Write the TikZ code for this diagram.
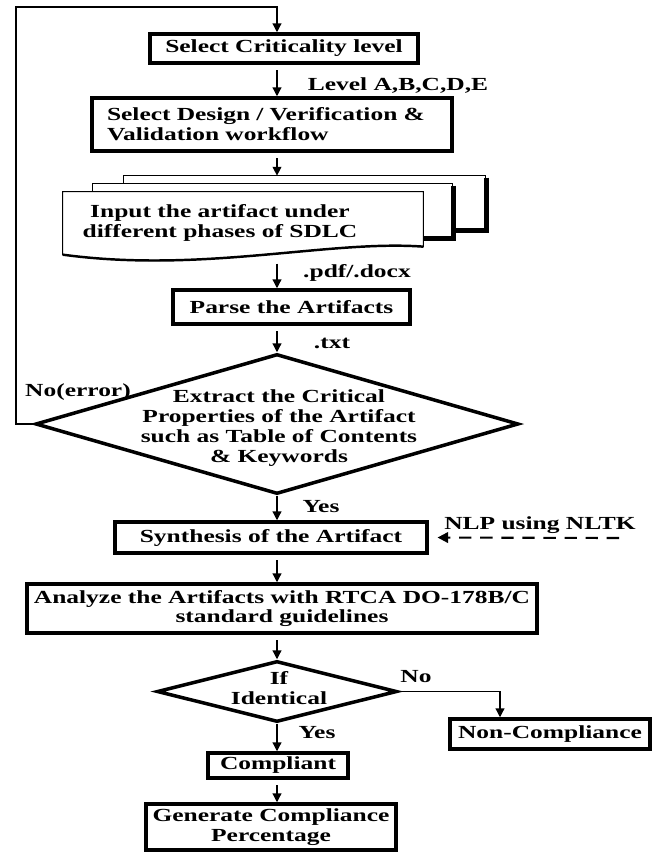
\documentclass[tikz,border=0pt]{standalone}
\usepackage{fontspec}
\setmainfont{Liberation Serif}[FakeStretch=1.38]
\usepackage{xcolor}
\usetikzlibrary{positioning, calc, shapes.geometric, arrows.meta}
\newdimen\px \px=0.02cm
\newcommand{\chartfont}{\fontsize{10.5}{11.3}\selectfont\bfseries}
\tikzset{
    stepbox/.style={
        draw, line width=2pt, fill=white, inner sep=0pt, align=center, font=\chartfont
    },
    decision/.style={
        diamond, draw, line width=2pt, fill=white, inner sep=0pt
    },
    arr/.style={
        -{Triangle[length=5pt,width=5pt]}, line width=0.7pt, shorten <=3pt
    },
    lbl/.style={
        font=\chartfont, align=center, inner sep=0pt
    },
    sheet/.style={
        draw, line width=0.6pt, fill=white
    },
    shade/.style={
        line width=2.5pt
    }
}

\begin{document}
\begin{tikzpicture}[x=0.02cm, y=-0.02cm]
    \useasboundingbox (0,0) rectangle (656,852);

    % spine of the main flow and loop corners
    \coordinate (spine) at (277,0);
    \coordinate (loop) at (16,7);
    \coordinate (nobranch) at (500,0);
    \coordinate (nlp) at (619,538);

    % boxes
    \node[stepbox, minimum width=268\px, minimum height=29\px] (crit) at (284,48.5) {Select Criticality level};
    \node[stepbox, align=left, text width=330\px, minimum width=360\px, minimum height=53\px] (design) at (272,124.5)
        {Select Design / Verification \&\\Validation workflow};

    % stack of documents
    \node[minimum width=360\px, minimum height=66\px, inner sep=0pt] (input) at (243,225) {};
    \draw[sheet] ($(input.north west)+(61,-16)$) rectangle ($(input.north east)+(62,38)$);
    \draw[shade] ($(input.north east)+(63,-14)$) -- ($(input.north east)+(63,39)$) -- ($(input.north east)+(30,39)$);
    \draw[sheet] ($(input.north west)+(30,-8)$) rectangle ($(input.north east)+(29,46)$);
    \draw[shade] ($(input.north east)+(30,-6)$) -- ($(input.north east)+(30,47)$) -- ($(input.north east)+(1,47)$);
    \draw[sheet] (input.north west) -- (input.north east) -- ($(input.north east)+(0,55)$)
        .. controls ($(input.north east)+(-95,48)$) and ($(input.north west)+(140,82)$) .. ($(input.north west)+(0,63)$) -- cycle;
    \draw[line width=1.4pt] ($(input.north east)+(0,55)$)
        .. controls ($(input.north east)+(-95,48)$) and ($(input.north west)+(140,82)$) .. ($(input.north west)+(0,63)$);
    \node[lbl] (inputtext) at (220,223) {Input the artifact under\\different phases of SDLC};

    \node[stepbox, minimum width=237\px, minimum height=34\px] (parse) at (291.5,307) {Parse the Artifacts};

    % first decision
    \node[decision, minimum width=483\px, minimum height=140\px] (dec1) at (277,424) {};
    \node[lbl] (dec1txt) at ($(dec1)+(2,4)$)
        {Extract the Critical\\Properties of the Artifact\\such as Table of Contents\\\& Keywords};

    \node[stepbox, minimum width=312\px, minimum height=31\px] (synth) at (271,537.5) {Synthesis of the Artifact};
    \node[stepbox, minimum width=510\px, minimum height=49\px] (analyze) at (282,608.5)
        {Analyze the Artifacts with RTCA DO-178B/C\\standard guidelines};

    % second decision
    \node[decision, minimum width=240\px, minimum height=61\px] (dec2) at (277,691.5) {};
    \node[lbl] (dec2txt) at (279,688.5) {If\\Identical};

    \node[stepbox, minimum width=200\px, minimum height=30\px] (noncomp) at (550,734) {Non-Compliance};
    \node[stepbox, minimum width=140\px, minimum height=25\px] (comp) at (278,765.5) {Compliant};
    \node[stepbox, minimum width=250\px, minimum height=46\px] (gen) at (271,827) {Generate Compliance\\Percentage};

    % labels
    \node[lbl] (lvl) at (398,86) {Level A,B,C,D,E};
    \node[lbl] (pdf) at (357,273) {.pdf/.docx};
    \node[lbl] (txt) at (332,343) {.txt};
    \node[lbl] (noerr) at (78,392) {No(error)};
    \node[lbl] (yes1) at (321,507) {Yes};
    \node[lbl] (nlptxt) at (540,525) {NLP using NLTK};
    \node[lbl] (no2) at (416,677) {No};
    \node[lbl] (yes2) at (317,733) {Yes};

    % connectors
    \draw[arr, shorten <=0pt] (dec1.west) -| (loop) -| (crit.north -| spine);
    \draw[arr] (crit.south -| spine) -- (design.north -| spine);
    \draw[arr] (design.south -| spine) -- ($(input.north -| spine)+(0,-16)$);
    \draw[arr] (input.south -| spine) -- (parse.north -| spine);
    \draw[arr] (parse.south -| spine) -- (dec1.north);
    \draw[arr, shorten <=0pt] (dec1.south) -- (synth.north -| dec1.south);
    \draw[-{Triangle[length=6pt,width=6pt]}, line width=1.2pt, dash pattern=on 7pt off 5pt, shorten >=5pt] (nlp) -- (synth.east);
    \draw[arr] (synth.south -| spine) -- (analyze.north -| spine);
    \draw[arr] (analyze.south -| spine) -- (dec2.north);
    \draw[arr, shorten <=0pt] (dec2.east) -| (noncomp.north -| nobranch);
    \draw[arr, shorten <=0pt] (dec2.south) -- (comp.north -| dec2.south);
    \draw[arr] (comp.south -| spine) -- (gen.north -| spine);

\end{tikzpicture}
\end{document}
